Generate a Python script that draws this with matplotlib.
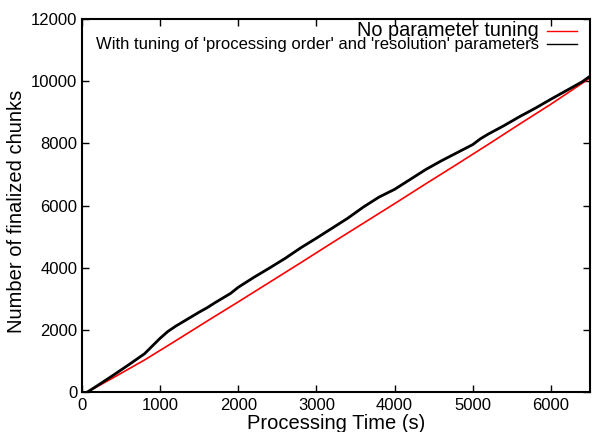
import matplotlib
matplotlib.use("Agg")
import matplotlib.pyplot as plt

plt.rcParams['font.family'] = ['Liberation Sans', 'DejaVu Sans']

t_tuned = [70, 200, 400, 600, 800, 900, 1000, 1100, 1200, 1300, 1400, 1500, 1600, 1700,
           1800, 1900, 2000, 2200, 2400, 2600, 2800, 3000, 3200, 3400, 3600, 3800, 4000,
           4200, 4400, 4600, 4800, 5000, 5100, 5200, 5400, 5600, 5800, 6000, 6200, 6400, 6500]
n_tuned = [0, 210, 540, 880, 1230, 1480, 1730, 1950, 2120, 2270, 2420, 2570, 2710, 2870,
           3020, 3170, 3370, 3690, 3990, 4300, 4640, 4950, 5270, 5590, 5950, 6270, 6520,
           6840, 7160, 7440, 7700, 7960, 8150, 8300, 8570, 8860, 9130, 9420, 9700, 9980, 10160]

t_plain = [70, 400, 800, 1200, 1600, 2000, 2400, 2800, 3200, 3600, 4000, 4400, 4800,
           5200, 5600, 6000, 6500]
n_plain = [0, 460, 1030, 1650, 2280, 2900, 3530, 4160, 4800, 5430, 6060, 6700, 7330,
           7970, 8620, 9260, 10100]

labels = ["No parameter tuning",
          "With tuning of 'processing order' and 'resolution' parameters"]
x_ticks = [0, 1000, 2000, 3000, 4000, 5000, 6000]
y_ticks = [0, 2000, 4000, 6000, 8000, 10000, 12000]

fig = plt.figure(figsize=(5.92, 4.32), dpi=100)
ax = fig.add_axes([82 / 592, 40 / 432, 508 / 592, 373 / 432])

ax.plot(t_plain, n_plain, color='#ff0000', lw=1.2)
ax.plot(t_tuned, n_tuned, color='black', lw=2.0)

ax.set_xlim(0, 6500)
ax.set_ylim(0, 12000)
ax.set_xticks(x_ticks)
ax.set_yticks(y_ticks)
ax.tick_params(direction='in', length=5, width=1, top=True, right=True, labelsize=12)
ax.tick_params(axis='x', pad=4)
for s in ax.spines.values():
	s.set_linewidth(1.5)

ax.set_xlabel("Processing Time (s)", fontsize=14.5)
ax.set_ylabel("Number of finalized chunks", fontsize=14.5)
ax.xaxis.set_label_coords(0.5, -0.058)
ax.yaxis.set_label_coords(-0.11, 0.485)

# gnuplot-like key, top right, labels right aligned before the sample lines
key = [(labels[0], '#ff0000', 14.3, 30.5), (labels[1], 'black', 12, 44)]
for text, col, fs, ypix in key:
	yy = (432 - ypix - 40) / 373
	ax.text((539 - 82) / 508, yy, text, ha='right', va='center', fontsize=fs,
	        transform=ax.transAxes)
	ax.plot([(547 - 82) / 508, (577 - 82) / 508], [yy, yy], color=col, lw=1.0,
	        transform=ax.transAxes, clip_on=False)

fig.savefig("out.png", dpi=100)
